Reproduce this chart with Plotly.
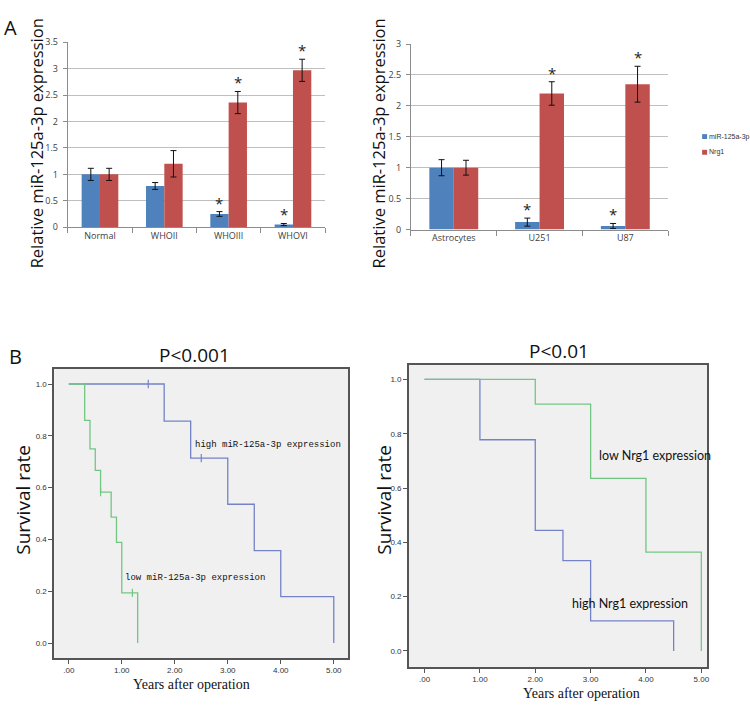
import plotly.graph_objects as go

# ---- Panel A data (relative expression, mean +/- error) ----
cats_tissue = ["Normal", "WHOII", "WHOIII", "WHOVI"]
mir_tissue = [1.0, 0.78, 0.25, 0.05]
mir_tissue_err = [0.115, 0.065, 0.045, 0.02]
nrg_tissue = [1.0, 1.2, 2.36, 2.97]
nrg_tissue_err = [0.115, 0.25, 0.21, 0.21]
mir_tissue_star = [False, False, True, True]
nrg_tissue_star = [False, False, True, True]

cats_cell = ["Astrocytes", "U251", "U87"]
mir_cell = [1.0, 0.12, 0.058]
mir_cell_err = [0.13, 0.065, 0.04]
nrg_cell = [1.0, 2.2, 2.35]
nrg_cell_err = [0.12, 0.19, 0.29]
mir_cell_star = [False, True, True]
nrg_cell_star = [False, True, True]

# ---- Panel B data (Kaplan-Meier steps) ----
low_mir_t = [0, 0.3, 0.4, 0.5, 0.6, 0.8, 0.9, 1.0, 1.3]
low_mir_s = [1.0, 0.86, 0.75, 0.667, 0.583, 0.486, 0.389, 0.194, 0.0]
low_mir_cens_t = [0.6, 1.2]
low_mir_cens_s = [0.583, 0.194]
high_mir_t = [0, 1.8, 2.3, 3.0, 3.5, 4.0, 5.0]
high_mir_s = [1.0, 0.857, 0.714, 0.536, 0.357, 0.179, 0.0]
high_mir_cens_t = [1.5, 2.5]
high_mir_cens_s = [1.0, 0.714]

low_nrg_t = [0, 2.0, 3.0, 4.0, 5.0]
low_nrg_s = [1.0, 0.909, 0.636, 0.364, 0.0]
high_nrg_t = [0, 1.0, 2.0, 2.5, 3.0, 4.5]
high_nrg_s = [1.0, 0.778, 0.444, 0.333, 0.111, 0.0]

year_ticks = [0, 1, 2, 3, 4, 5]
year_labels = [".00", "1.00", "2.00", "3.00", "4.00", "5.00"]

BLUE = "#4f81bd"
RED = "#c0504d"
KM_BLUE = "#7383c6"
KM_GREEN = "#72c683"
W, H = 750, 708


def px(x):
    return x / W


def py(y):
    return 1 - y / H


fig = go.Figure()

err_style = dict(type="data", color="#111", thickness=1, width=3)

# bars, panel A left
fig.add_trace(go.Bar(x=cats_tissue, y=mir_tissue, error_y=dict(array=mir_tissue_err, **err_style),
                     marker=dict(color=BLUE, line_width=0), xaxis="x", yaxis="y", name="miR-125a-3p"))
fig.add_trace(go.Bar(x=cats_tissue, y=nrg_tissue, error_y=dict(array=nrg_tissue_err, **err_style),
                     marker=dict(color=RED, line_width=0), xaxis="x", yaxis="y", name="Nrg1"))
# bars, panel A right
fig.add_trace(go.Bar(x=cats_cell, y=mir_cell, error_y=dict(array=mir_cell_err, **err_style),
                     marker=dict(color=BLUE, line_width=0), xaxis="x2", yaxis="y2", name="miR-125a-3p"))
fig.add_trace(go.Bar(x=cats_cell, y=nrg_cell, error_y=dict(array=nrg_cell_err, **err_style),
                     marker=dict(color=RED, line_width=0), xaxis="x2", yaxis="y2", name="Nrg1"))

# survival curves
def km(t, s, color, xa, ya):
    fig.add_trace(go.Scatter(x=t, y=s, mode="lines", line=dict(color=color, width=1.3, shape="hv"),
                             xaxis=xa, yaxis=ya))


def cens(t, s, color, xa, ya):
    fig.add_trace(go.Scatter(x=t, y=s, mode="markers",
                             marker=dict(symbol="line-ns", size=6, line=dict(color=color, width=1.2)),
                             xaxis=xa, yaxis=ya))


km(high_mir_t, high_mir_s, KM_BLUE, "x3", "y3")
km(low_mir_t, low_mir_s, KM_GREEN, "x3", "y3")
cens(high_mir_cens_t, high_mir_cens_s, KM_BLUE, "x3", "y3")
cens(low_mir_cens_t, low_mir_cens_s, KM_GREEN, "x3", "y3")
km(high_nrg_t, high_nrg_s, KM_BLUE, "x4", "y4")
km(low_nrg_t, low_nrg_s, KM_GREEN, "x4", "y4")

annots = []

# asterisks over significant bars
gap = 0.43
off = (1 - gap) / 4
for xa, ya, vals, errs, stars, sh in [
    ("x", "y", mir_tissue, mir_tissue_err, mir_tissue_star, -off),
    ("x", "y", nrg_tissue, nrg_tissue_err, nrg_tissue_star, off),
    ("x2", "y2", mir_cell, mir_cell_err, mir_cell_star, -off),
    ("x2", "y2", nrg_cell, nrg_cell_err, nrg_cell_star, off),
]:
    for i, (v, e, st) in enumerate(zip(vals, errs, stars)):
        if st:
            annots.append(dict(x=i + sh, y=v + e, xref=xa, yref=ya, text="*", showarrow=False,
                               xanchor="center", yanchor="bottom", yshift=-3,
                               font=dict(family="Open Sans", size=15, color="#222")))

# text labels
def lab(x, y, text, size, family="Open Sans", angle=0, color="#111", xanchor="center"):
    annots.append(dict(x=px(x), y=py(y), xref="paper", yref="paper", text=text, showarrow=False,
                       textangle=angle, xanchor=xanchor, yanchor="middle", borderpad=0,
                       font=dict(family=family, size=size, color=color)))


lab(11, 21, "A", 20)
lab(16, 356, "B", 20)
lab(37, 139, "Relative miR-125a-3p expression", 16.5, angle=-90)
lab(379, 139, "Relative miR-125a-3p expression", 16.5, angle=-90)
lab(195, 355, "P&lt;0.001", 19)
lab(560, 350, "P&lt;0.01", 19)
lab(23, 502, "Survival rate", 19, angle=-90)
lab(385, 502, "Survival rate", 19, angle=-90)
lab(192, 690, "Years after operation", 14, family="Liberation Serif")
lab(583, 699, "Years after operation", 14, family="Liberation Serif")

# legend for panel A (drawn by hand so it can sit against the right edge)
legend_names = ["miR-125a-3p", "Nrg1"]
legend_colors = [BLUE, RED]
legend_y = [132, 148]
shapes = []
for name, col, ly in zip(legend_names, legend_colors, legend_y):
    shapes.append(dict(type="rect", xref="paper", yref="paper", x0=px(704), x1=px(709),
                       y0=py(ly + 2.5), y1=py(ly - 2.5), fillcolor=col, line_width=0))
    lab(710, ly, name, 7, family="Liberation Sans", color="#333", xanchor="left")

annots.append(dict(x=2.34, y=0.766, xref="x3", yref="y3", text="high miR-125a-3p expression",
                   showarrow=False, xanchor="left", font=dict(family="Liberation Mono", size=9, color="#111")))
annots.append(dict(x=1.02, y=0.251, xref="x3", yref="y3", text="low miR-125a-3p expression",
                   showarrow=False, xanchor="left", font=dict(family="Liberation Mono", size=9, color="#111")))
annots.append(dict(x=3.11, y=0.72, xref="x4", yref="y4", text="low Nrg1 expression",
                   showarrow=False, xanchor="left", font=dict(family="Lato", size=12.5, color="#111")))
annots.append(dict(x=2.63, y=0.174, xref="x4", yref="y4", text="high Nrg1 expression",
                   showarrow=False, xanchor="left", font=dict(family="Lato", size=12.5, color="#111")))

for xr, yr in [("x3", "y3"), ("x4", "y4")]:
    shapes.append(dict(type="rect", xref=xr + " domain", yref=yr + " domain", x0=0, x1=1, y0=0, y1=1,
                       fillcolor="#f0f0f0", line_width=0, layer="below"))

tick_font = dict(family="Open Sans", size=9, color="#404040")
km_tick_font = dict(family="Liberation Sans", size=8, color="#333")

bar_x = dict(showgrid=False, showline=True, linecolor="#8c8c8c", linewidth=1, ticks="outside",
             tickson="boundaries", ticklen=5, tickcolor="#8c8c8c", tickfont=tick_font)
bar_y = dict(showgrid=True, gridcolor="#bfbfbf", gridwidth=1, showline=True, linecolor="#8c8c8c",
             ticks="outside", ticklen=4, tickcolor="#8c8c8c", tickfont=tick_font, zeroline=False,
             dtick=0.5, ticklabelstandoff=3)
km_x = dict(showgrid=False, zeroline=False, showline=True, mirror=True, linecolor="#555", linewidth=1.5,
            ticks="outside", ticklen=4, tickcolor="#555", tickvals=year_ticks, ticktext=year_labels,
            tickfont=km_tick_font)
km_y = dict(showgrid=False, zeroline=False, showline=True, mirror=True, linecolor="#555", linewidth=1.5,
            ticks="outside", ticklen=4, tickcolor="#555", tickvals=[0, 0.2, 0.4, 0.6, 0.8, 1.0],
            tickformat=".1f", tickfont=km_tick_font)

fig.update_layout(
    width=W, height=H, margin=dict(l=0, r=0, t=0, b=0),
    paper_bgcolor="white", plot_bgcolor="white", showlegend=False,
    barmode="group", bargap=gap, bargroupgap=0,
    xaxis=dict(domain=[px(68), px(326)], anchor="y", **bar_x),
    yaxis=dict(domain=[py(224.3), py(36)], anchor="x", range=[0, 3.5], **bar_y),
    xaxis2=dict(domain=[px(412), px(670)], anchor="y2", **bar_x),
    yaxis2=dict(domain=[py(226.7), py(37.7)], anchor="x2", range=[0, 3], **bar_y),
    xaxis3=dict(domain=[px(54.3), px(349)], anchor="y3", range=[-0.276, 5.27], **km_x),
    yaxis3=dict(domain=[py(663.3), py(368.5)], anchor="x3", range=[-0.058, 1.059], **km_y),
    xaxis4=dict(domain=[px(410), px(709.3)], anchor="y4", range=[-0.283, 5.11], **km_x),
    yaxis4=dict(domain=[py(672.3), py(364.5)], anchor="x4", range=[-0.059, 1.054], **km_y),
    shapes=shapes,
    annotations=annots,
)

# the page body has a default 8px margin; drop it so the figure sits at the window corner
fig.write_html("out.html", config={"displayModeBar": False},
               post_script="document.body.style.margin='0';")
